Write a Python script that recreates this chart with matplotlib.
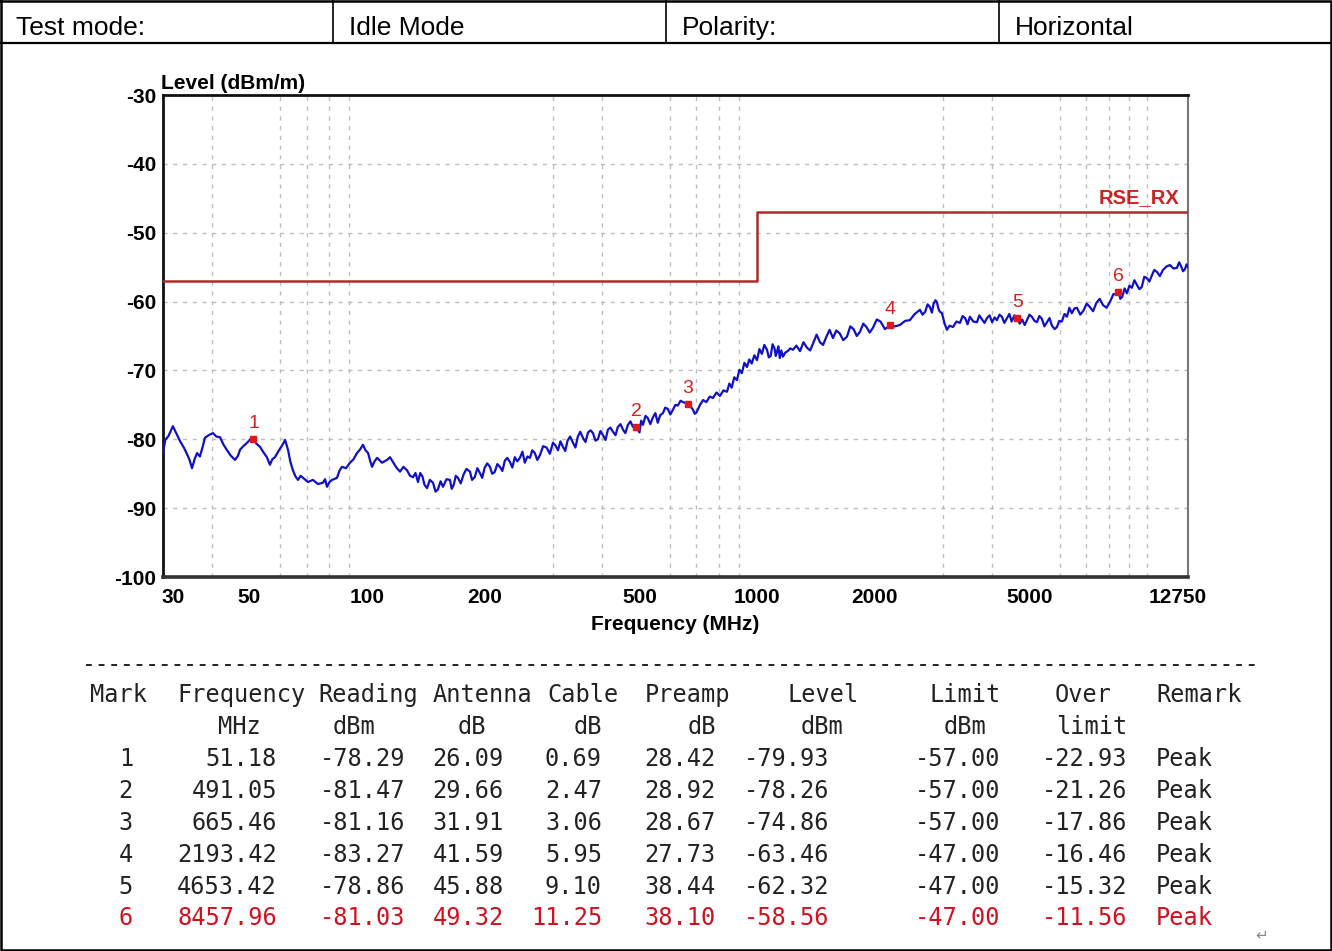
import matplotlib
matplotlib.use("Agg")
import matplotlib.pyplot as plt
import matplotlib.transforms as mtransforms
from matplotlib.lines import Line2D
from matplotlib.ticker import FixedLocator, LogLocator, NullFormatter

W, H = 1332, 951

# header row of the report
header_cells = ["Test mode:", "Idle Mode", "Polarity:", "Horizontal"]

# measured trace (MHz, dBm)
freq_mhz = [
    30.0, 30.4, 31.0, 31.8, 32.5, 33.2, 34.0, 34.6, 35.1, 35.6, 36.2, 36.7, 37.3, 38.0, 38.4,
    39.3, 40.3, 41.1, 42.0, 42.9, 43.8, 44.8, 45.9, 46.7, 47.3, 48.2, 49.3, 50.2, 51.0, 52.0,
    53.2, 54.3, 55.4, 56.4, 57.2, 58.1, 59.5, 60.6, 61.7, 62.8, 63.6, 64.6, 65.6, 66.6, 67.6,
    68.6, 70.6, 72.7, 74.9, 77.2, 78.1, 79.0, 80.2, 81.4, 83.8, 85.0, 86.3, 88.4, 90.5, 92.4,
    94.3, 96.0, 97.7, 99.2, 100.7, 101.9, 103.1, 104.6, 106.2, 109.3, 112.6, 114.6, 116.6,
    119.0, 121.6, 124.1, 126.7, 129.0, 131.3, 133.2, 135.2,
    137.0, 138.8, 140.5, 142.6, 145.0, 147.7, 150.0, 152.0, 154.5, 156.7, 160.0, 163.3, 165.0,
    167.0, 169.0, 171.2, 174.0, 177.0, 180.0, 183.8, 186.0, 189.0, 192.0, 194.9, 197.5, 200.5,
    203.5, 206.8, 209.5, 212.5, 216.0, 219.3, 222.5, 225.8, 229.0, 232.7, 236.0, 239.5, 243.0,
    246.8, 250.5, 254.0, 258.0, 261.9, 265.5, 269.5, 273.5, 277.8, 283.0, 289.0, 294.5, 300.0,
    304.5, 309.0, 313.5, 318.2, 322.5, 327.0, 332.0, 337.6, 342.5, 347.5, 352.5, 358.1, 363.5,
    369.0, 374.5, 380.0, 385.5, 391.0, 397.0, 403.0, 409.0, 415.0, 421.0, 427.5, 434.0, 440.0,
    447.0, 453.5, 460.0, 467.0, 474.0, 481.1, 491.05, 500.0, 505.0, 510.4, 518.0, 525.0, 533.0,
    541.4, 549.0, 557.0, 565.0, 574.4, 582.0, 591.0, 600.0, 609.3, 618.0, 627.0, 637.0, 646.3,
    665.46, 675.0, 685.7, 693.0, 700.0, 714.6,
    728.0, 742.0, 757.0, 771.7, 788.0, 804.0, 821.0, 838.1, 850.0, 862.0, 875.0, 889.1, 902.0,
    915.0, 929.0, 943.3, 956.0, 970.0, 985.0, 1000.7, 1015.0, 1030.0, 1045.0, 1061.5, 1073.0,
    1085.0, 1097.0, 1110.0, 1118.0, 1126.0, 1135.0, 1145.0, 1155.0, 1166.4, 1183.0, 1200.0,
    1218.0, 1237.5, 1263.0, 1290.0, 1317.0, 1344.2, 1370.0, 1395.0, 1423.0, 1451.0, 1478.0,
    1505.0, 1536.0, 1567.2, 1598.0, 1630.0, 1665.0, 1702.2, 1736.0, 1770.0, 1804.0, 1838.0,
    1874.0, 1910.0, 1947.0, 1984.6, 2030.0, 2075.0, 2130.0, 2193.42, 2260.0, 2326.6, 2400.0,
    2467.9, 2540.0, 2619.1, 2660.0, 2700.0, 2740.0, 2778.5, 2810.0, 2840.0, 2870.0, 2895.6,
    2920.0, 2940.0, 2982.0, 3030.0, 3071.7,
    3120.0, 3182.0, 3250.0, 3316.8, 3370.0, 3420.0, 3470.0, 3518.0, 3590.0, 3667.0, 3720.0,
    3780.0, 3835.0, 3890.0, 3950.0, 4010.0, 4070.0, 4126.0, 4190.0, 4250.0, 4310.0, 4378.0,
    4440.0, 4500.0, 4575.0, 4653.42, 4720.0, 4790.0, 4860.0, 4927.0, 5000.0, 5070.0, 5150.0,
    5225.0, 5300.0, 5380.0, 5460.0, 5544.0, 5630.0, 5710.0, 5800.0, 5881.0, 5960.0, 6050.0,
    6150.0, 6239.0, 6330.0, 6420.0, 6520.0, 6619.0, 6750.0, 6880.0, 7010.0, 7146.0, 7280.0,
    7420.0, 7570.0, 7717.0, 7880.0, 8050.0, 8210.0, 8381.0, 8457.96, 8550.0, 8650.0, 8770.0,
    8891.0, 9020.0, 9150.0, 9290.0, 9433.0, 9570.0, 9700.0, 9850.0, 10007.0, 10150.0, 10300.0,
    10450.0, 10615.0, 10800.0, 11000.0, 11230.0, 11462.0, 11700.0, 11943.0, 12100.0, 12250.0,
    12380.0, 12522.0, 12640.0, 12750.0,
]
level_dbm = [
    -82.0, -80.1, -79.5, -78.1, -79.2, -80.3, -81.3, -82.2, -83.0, -84.2, -82.8, -82.0, -82.5, -80.9, -79.8,
    -79.4, -79.1, -79.6, -79.7, -80.8, -81.6, -82.4, -83.0, -82.4, -81.5, -81.0, -80.5, -80.0, -79.9, -80.6,
    -81.1, -81.9, -82.6, -83.7, -82.9, -82.6, -81.6, -80.9, -80.1, -81.6, -83.2, -84.5, -85.4, -85.9, -85.3,
    -85.6, -86.2, -85.9, -86.5, -86.3, -85.8, -86.9, -86.2, -85.9, -85.6, -84.6, -84.0, -84.2, -83.4, -82.9,
    -82.0, -81.5, -80.8, -81.6, -82.0, -83.1, -84.0, -83.2, -82.7, -83.4, -83.0, -82.6, -83.3,
    -84.1, -84.7, -84.0, -84.5, -85.3, -85.5, -84.9, -86.2,
    -84.9, -85.4, -86.6, -87.1, -85.9, -86.3, -87.6, -87.3, -86.1, -86.9, -85.8, -85.9, -87.2,
    -86.6, -85.3, -85.6, -86.4, -85.1, -84.3, -84.7, -85.9, -85.5, -84.2, -84.9, -85.6, -84.1,
    -83.5, -84.0, -85.0, -84.8, -83.6, -84.0, -84.6, -83.1, -82.7, -83.3, -84.1, -82.6, -83.2,
    -82.7, -81.8, -83.4, -82.5, -82.7, -81.6, -82.0, -83.0, -82.3, -81.0, -81.2, -82.1, -80.5,
    -80.9, -81.6, -80.3, -81.1, -81.7, -80.2, -79.6, -80.5, -81.2, -79.6, -78.9, -79.8, -80.4,
    -79.0, -78.7, -79.1, -80.2, -80.0, -78.8, -79.4, -80.1, -78.6, -78.3, -78.9, -79.4, -78.2,
    -77.8, -78.6, -79.1, -77.9, -77.4, -78.2, -78.26, -79.0, -77.3, -77.9, -76.6, -76.9, -77.8,
    -76.8, -76.2, -77.6, -76.5, -76.2, -75.4, -75.6, -76.4, -75.7, -75.0, -75.1, -74.4, -74.6,
    -74.86, -75.2, -75.7, -76.3, -76.1, -75.0,
    -74.3, -74.6, -73.8, -74.0, -73.2, -73.7, -72.9, -73.1, -71.9, -72.5, -71.0, -71.4, -69.9,
    -70.4, -68.9, -69.5, -68.4, -69.0, -67.8, -68.5, -66.9, -67.6, -66.3, -67.0, -68.1,
    -67.9, -66.2, -66.8, -67.9, -67.3, -66.5, -68.2, -67.1, -68.0, -67.4, -67.2,
    -66.8, -67.0, -66.4, -67.2, -65.9, -66.7, -67.1, -66.0, -64.8, -65.9, -66.3,
    -65.2, -64.1, -65.3, -64.2, -64.6, -65.6, -65.1, -63.6, -64.0, -65.0, -64.4,
    -63.2, -63.7, -64.5, -63.8, -62.6, -62.9, -64.0, -63.46, -63.6, -63.4, -62.8,
    -62.7, -61.8, -61.2, -61.9, -61.5, -60.4, -60.8, -61.6, -60.3, -59.8, -60.1,
    -61.0, -61.4, -61.7, -63.2, -64.1,
    -63.5, -63.7, -62.9, -63.1, -62.1, -62.4, -63.3, -62.2, -62.9, -63.0, -62.0,
    -62.6, -63.1, -62.4, -62.0, -63.0, -62.3, -62.7, -61.9, -62.2, -63.1, -62.4,
    -61.8, -62.9, -62.0, -62.32, -63.2, -62.6, -63.4, -62.7, -61.9, -62.2, -62.8,
    -63.0, -62.1, -62.5, -63.6, -63.0, -62.4, -63.5, -64.0, -63.7, -62.8, -62.9,
    -61.8, -62.2, -60.9, -61.7, -61.0, -60.9, -61.9, -61.3, -60.3, -60.8, -61.4,
    -60.2, -59.6, -60.5, -60.9, -60.0, -58.9, -59.0, -58.56, -59.6, -59.3, -58.1,
    -58.8, -57.7, -58.0, -56.9, -57.6, -58.2, -57.9, -56.4, -56.6, -57.1, -56.2,
    -55.4, -55.7, -56.3, -55.4, -54.9, -54.7, -55.2, -55.1, -54.3, -54.9,
    -55.6, -55.3, -54.6, -55.0,
]

# RSE_RX limit line
limit_freq = [30, 1000, 1000, 12750]
limit_level = [-57, -57, -47, -47]

# x ticks
xtick_vals = [30, 50, 100, 200, 500, 1000, 2000, 5000, 12750]
ytick_vals = [-30, -40, -50, -60, -70, -80, -90, -100]

# marker table
col_heads = ["Mark", "Frequency", "Reading", "Antenna", "Cable", "Preamp", "Level", "Limit", "Over", "Remark"]
col_units = ["", "MHz", "dBm", "dB", "dB", "dB", "dBm", "dBm", "limit", ""]
marks = ["1", "2", "3", "4", "5", "6"]
mk_freq = [51.18, 491.05, 665.46, 2193.42, 4653.42, 8457.96]
mk_reading = [-78.29, -81.47, -81.16, -83.27, -78.86, -81.03]
mk_antenna = [26.09, 29.66, 31.91, 41.59, 45.88, 49.32]
mk_cable = [0.69, 2.47, 3.06, 5.95, 9.10, 11.25]
mk_preamp = [28.42, 28.92, 28.67, 27.73, 38.44, 38.10]
mk_level = [-79.93, -78.26, -74.86, -63.46, -62.32, -58.56]
mk_limit = [-57.00, -57.00, -57.00, -47.00, -47.00, -47.00]
mk_over = [-22.93, -21.26, -17.86, -16.46, -15.32, -11.56]
mk_remark = ["Peak"] * 6


def px(x, y):
    return x / W, 1 - y / H


fig = plt.figure(figsize=(W / 100, H / 100), dpi=100)
fig.patch.set_facecolor("white")

# page frame and header grid
def fline(xs, ys, lw=1.6, color="black", **kw):
    fx = [x / W for x in xs]
    fy = [1 - y / H for y in ys]
    fig.add_artist(Line2D(fx, fy, transform=fig.transFigure, lw=lw, color=color, **kw))

fline([1, 1331, 1331, 1, 1], [1, 1, 950, 950, 1], lw=1.8)
fline([1, 1331], [43, 43], lw=1.6)
for xs in (333, 666, 999):
    fline([xs, xs], [1, 43], lw=1.2)
for i, txt in enumerate(header_cells):
    fig.text(*px(16 + i * 333, 28), txt, fontsize=19, family="Liberation Sans",
             ha="left", va="center", color="black")

# chart
ax = fig.add_axes([163 / W, 1 - 577 / H, (1188 - 163) / W, (577 - 95) / H])
ax.set_xscale("log")
ax.set_xlim(30, 12750)
ax.set_ylim(-100, -30)

ax.plot(limit_freq, limit_level, color="#b02a2a", lw=1.8, zorder=3)
ax.plot(freq_mhz, level_dbm, color="#1010c4", lw=1.6, zorder=4)
ax.plot(mk_freq, mk_level, "s", color="#e01818", ms=4.5, zorder=5)
for m, f, lv in zip(marks, mk_freq, mk_level):
    ax.annotate(m, (f, lv), xytext=(0, 5), textcoords="offset points", ha="center",
                va="bottom", color="#d42020", fontsize=14, family="Liberation Sans", zorder=6)

ax.text(12150, -46.3, "RSE_RX", color="#cc2222", fontsize=14.5, fontweight="bold",
        family="Liberation Sans", ha="right", va="bottom")

ax.xaxis.set_major_locator(FixedLocator(xtick_vals))
ax.set_xticklabels([str(v) for v in xtick_vals])
ax.xaxis.set_minor_locator(LogLocator(base=10, subs=range(1, 10), numticks=20))
ax.xaxis.set_minor_formatter(NullFormatter())
ax.set_yticks(ytick_vals)
ax.set_yticklabels([str(v) for v in ytick_vals])
ax.tick_params(axis="both", which="both", length=0)
ax.tick_params(axis="x", pad=8)
ax.tick_params(axis="y", pad=5)
for lab in ax.get_xticklabels() + ax.get_yticklabels():
    lab.set_fontsize(15)
    lab.set_fontweight("bold")
    lab.set_family("Liberation Sans")

xl = ax.get_xticklabels()
xl[0].set_transform(xl[0].get_transform() + mtransforms.ScaledTranslation(0.1, 0, fig.dpi_scale_trans))
xl[-1].set_transform(xl[-1].get_transform() + mtransforms.ScaledTranslation(-0.1, 0, fig.dpi_scale_trans))

ax.xaxis.grid(True, which="minor", color="#bdbdbd", ls=(0, (3, 4)), lw=1.0)
ax.xaxis.grid(False, which="major")
ax.yaxis.grid(True, which="major", color="#bdbdbd", ls=(0, (3, 4)), lw=1.0)
ax.set_axisbelow(True)

for side in ("left", "top"):
    ax.spines[side].set_linewidth(2.0)
    ax.spines[side].set_color("#111111")
ax.spines["bottom"].set_linewidth(2.6)
ax.spines["bottom"].set_color("#333333")
ax.spines["right"].set_linewidth(1.5)
ax.spines["right"].set_color("#777777")

ax.set_xlabel("Frequency (MHz)", fontsize=15, fontweight="bold", family="Liberation Sans", labelpad=6)
ax.text(-0.002, 1.004, "Level (dBm/m)", transform=ax.transAxes, fontsize=15, fontweight="bold",
        family="Liberation Sans", ha="left", va="bottom")

# dashed separator above the table
fline([86, 1258], [665, 665], lw=1.4, color="#222222", linestyle=(0, (3, 3.5)))

mono = "DejaVu Sans Mono"
fs = 17
head_left = [90, 177, 318, 433, 547, 645, 787, 930, 1055, 1156]
for x, t in zip(head_left, col_heads):
    fig.text(*px(x, 695), t, family=mono, fontsize=fs, ha="left", va="center", color="#222222")

unit_right = [0, 261, 375, 486, 602, 716, 843, 986, 1127, 0]
for x, t in zip(unit_right, col_units):
    if t:
        fig.text(*px(x, 727), t, family=mono, fontsize=fs, ha="right", va="center", color="#222222")

row_y = [759, 791, 823, 855, 887, 918]
for i in range(len(marks)):
    c = "#d0101e" if i == len(marks) - 1 else "#222222"
    y = row_y[i]
    cells = [
        (133, marks[i]),
        (277, f"{mk_freq[i]:.2f}"),
        (405, f"{mk_reading[i]:.2f}"),
        (504, f"{mk_antenna[i]:.2f}"),
        (602, f"{mk_cable[i]:.2f}"),
        (716, f"{mk_preamp[i]:.2f}"),
        (829, f"{mk_level[i]:.2f}"),
        (1000, f"{mk_limit[i]:.2f}"),
        (1127, f"{mk_over[i]:.2f}"),
    ]
    for x, t in cells:
        fig.text(*px(x, y), t, family=mono, fontsize=fs, ha="right", va="center", color=c)
    fig.text(*px(1156, y), mk_remark[i], family=mono, fontsize=fs, ha="left", va="center", color=c)

fig.text(*px(1262, 935), "\u21b5", fontsize=11, color="#888888", ha="center", va="center",
         family="DejaVu Sans")

fig.savefig("out.png", dpi=100, facecolor="white")
